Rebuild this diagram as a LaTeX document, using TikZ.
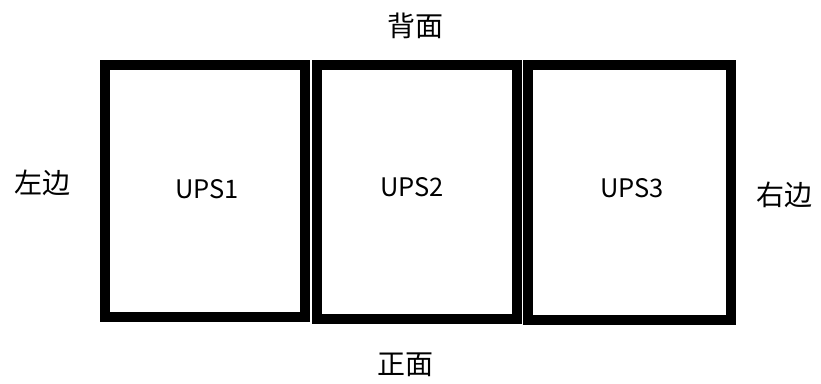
\documentclass[tikz,border=0pt]{standalone}
\usepackage{fontspec}
\setmainfont{Noto Sans CJK SC}
\begin{document}
\begin{tikzpicture}[x=1pt,y=-1pt,
  upsbox/.style={draw=black,line width=9.5pt,fill=none},
  cjk/.style={font=\fontsize{28}{32}\selectfont,inner sep=0pt},
  lbl/.style={font=\fontsize{25.5}{30}\selectfont,inner sep=0pt}]
\useasboundingbox (0,0) rectangle (821,383);
\draw[upsbox] (105,65) rectangle (305,317);
\draw[upsbox] (317,65) rectangle (517,319);
\draw[upsbox] (528,65) rectangle (731,320);
\node[lbl] (u1) at (207,189) {UPS1};
\node[lbl] (u2) at (412,187) {UPS2};
\node[lbl] (u3) at (632,188) {UPS3};
\node[cjk] (left) at (42,183) {左边};
\node[cjk] (right) at (784,195) {右边};
\node[cjk] (back) at (415,26) {背面};
\node[cjk] (front) at (405,365) {正面};
\end{tikzpicture}
\end{document}
